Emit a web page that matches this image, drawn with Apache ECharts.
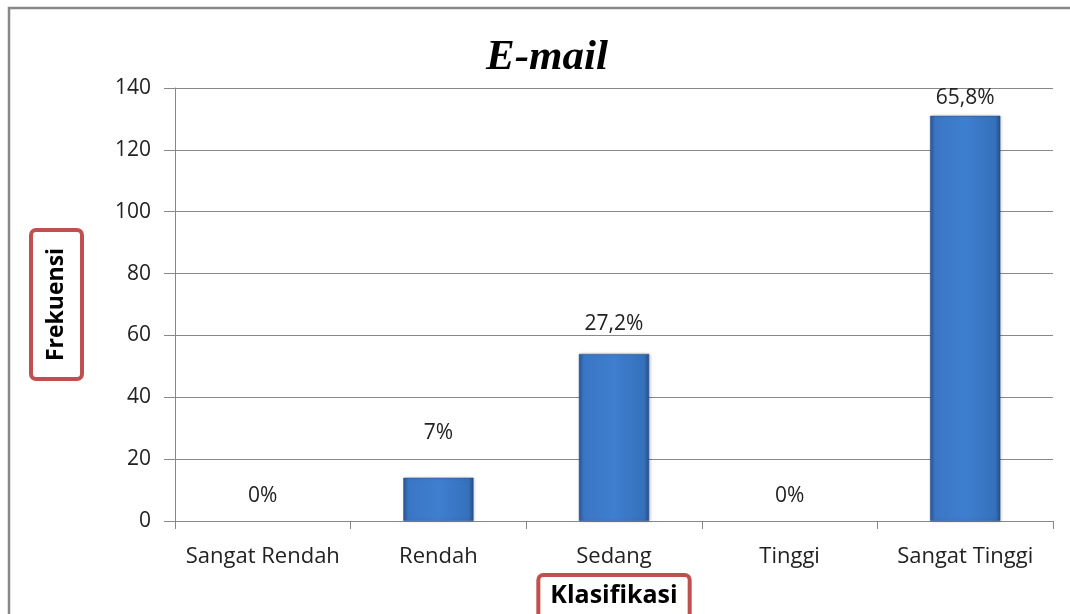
<!DOCTYPE html>
<html>
<head>
<meta charset="utf-8">
<script src="https://cdn.jsdelivr.net/npm/echarts@6/dist/echarts.min.js"></script>
<style>
html,body{margin:0;padding:0;background:#fff;}
#c{width:1070px;height:614px;}
</style>
</head>
<body>
<div id="c"></div>
<script>
const categories = ['Sangat Rendah', 'Rendah', 'Sedang', 'Tinggi', 'Sangat Tinggi'];
const frekuensi = [0, 14, 54, 0, 131];
const percentLabels = ['0%', '7%', '27,2%', '0%', '65,8%'];
const labelGaps = [14, 34, 19, 14, 7];
const yTicks = { min: 0, max: 140, interval: 20 };

const font = '"Open Sans", Lato, sans-serif';
const chart = echarts.init(document.getElementById('c'));

const barFill = new echarts.graphic.LinearGradient(0, 0, 1, 0, [
  { offset: 0, color: '#2a5794' },
  { offset: 0.07, color: '#3a76c4' },
  { offset: 0.5, color: '#3f7fd0' },
  { offset: 0.93, color: '#3570bb' },
  { offset: 1, color: '#264f88' }
]);

chart.setOption({
  animation: false,
  title: {
    text: 'E-mail',
    left: 481,
    top: 31,
    textStyle: { fontFamily: '"Liberation Serif", serif', fontStyle: 'italic', fontWeight: 'bold', fontSize: 43, color: '#000' }
  },
  grid: { left: 175, right: 17, top: 88, bottom: 93, containLabel: false, outerBoundsMode: 'none' },
  xAxis: {
    type: 'category',
    data: categories,
    name: 'Klasifikasi',
    nameLocation: 'middle',
    nameGap: 54,
    nameTextStyle: {
      fontFamily: font, fontWeight: 'bold', fontSize: 25, color: '#000',
      backgroundColor: '#fff', borderColor: '#c0504d', borderWidth: 4, borderRadius: 3,
      padding: [6, 10, 12, 10]
    },
    axisLine: { lineStyle: { color: '#888', width: 1 } },
    axisTick: { show: true, length: 8, lineStyle: { color: '#888' } },
    axisLabel: { fontFamily: font, fontSize: 22, color: '#222', margin: 25, interval: 0 }
  },
  yAxis: {
    type: 'value',
    min: yTicks.min, max: yTicks.max, interval: yTicks.interval,
    name: 'Frekuensi',
    nameLocation: 'middle',
    nameRotate: 90,
    nameGap: 95,
    nameTextStyle: {
      fontFamily: font, fontWeight: 'bold', fontSize: 23, color: '#000',
      backgroundColor: '#fff', borderColor: '#c0504d', borderWidth: 4, borderRadius: 3,
      padding: [12, 16, 12, 16]
    },
    axisLine: { show: true, lineStyle: { color: '#888', width: 1 } },
    axisTick: { show: true, length: 11, lineStyle: { color: '#888' } },
    splitLine: { lineStyle: { color: '#888', width: 1 } },
    axisLabel: { fontFamily: font, fontSize: 21, color: '#222', margin: 24 }
  },
  series: [{
    type: 'bar',
    barWidth: '40%',
    data: frekuensi.map((v, i) => ({
      value: v,
      itemStyle: v === 0 ? { opacity: 0 } : undefined,
      label: { show: true, position: 'top', distance: labelGaps[i], formatter: percentLabels[i], opacity: 1 }
    })),
    itemStyle: { color: barFill, borderColor: '#2a5590', borderWidth: 0.5, shadowColor: 'rgba(0,0,0,0.25)', shadowBlur: 3, shadowOffsetX: 1, shadowOffsetY: 0 },
    label: { fontFamily: font, fontSize: 21, color: '#222' }
  }],
  graphic: [{
    type: 'rect',
    shape: { x: 9, y: 8, width: 1080, height: 640 },
    style: { fill: 'none', stroke: '#888', lineWidth: 2.5 },
    silent: true,
    z: 100
  }]
});
</script>
</body>
</html>
